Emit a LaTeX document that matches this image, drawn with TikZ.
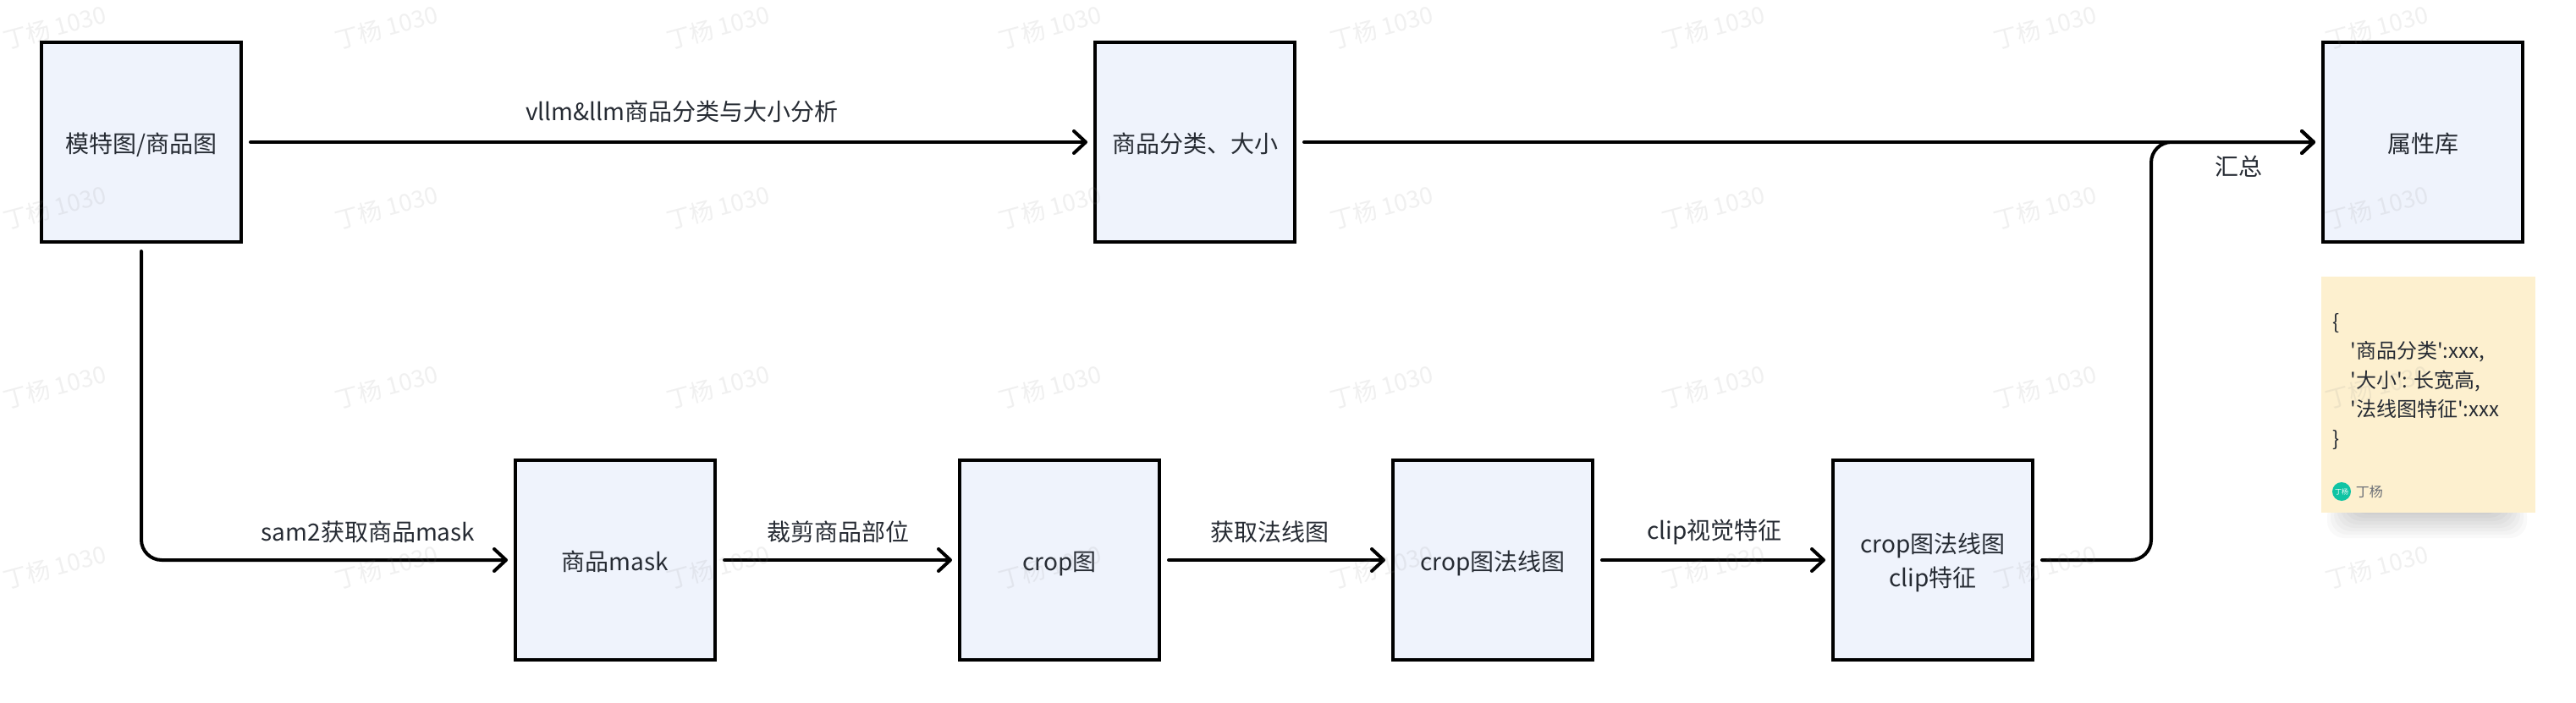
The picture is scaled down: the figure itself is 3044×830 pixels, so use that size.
\documentclass[tikz,border=0pt]{standalone}
\usepackage{fontspec}
\setmainfont{Noto Sans CJK SC}
\newfontfamily\notefont{Noto Sans CJK SC}
\usetikzlibrary{arrows.meta,positioning}
\definecolor{box_fill}{HTML}{EFF3FC}
\definecolor{note_fill}{HTML}{FDF0CF}
\definecolor{text_ink}{HTML}{262B33}
\definecolor{mark_ink}{HTML}{888888}
\definecolor{avatar_fill}{HTML}{10C4A4}
\definecolor{name_ink}{HTML}{6B6F76}

\begin{document}
\begin{tikzpicture}[
    x=0.5pt, y=-0.5pt,
    font=\fontsize{14pt}{20pt}\selectfont,
    box_style/.style={rectangle, draw=black, line width=2pt, fill=box_fill, text=text_ink,
        minimum size=118pt, inner sep=0pt, align=center},
    one_line_box/.style={box_style, text height=15.6pt, text depth=3pt},
    flow_style/.style={draw=black, line width=2pt, line cap=round, rounded corners=12pt,
        shorten <=4.5pt, shorten >=3.5pt,
        -{Straight Barb[length=7pt,width=13pt,round,line width=2pt]}},
    label_style/.style={text=text_ink, inner sep=0pt},
    mark_style/.style={text=mark_ink, text opacity=0.12, rotate=15, inner sep=0pt,
        font=\fontsize{14pt}{16pt}\selectfont}
]

\useasboundingbox (0,0) rectangle (3044,830);
\fill[white] (0,0) rectangle (3044,830);

% Top row
\node[one_line_box] (image_box) at (167,168) {模特图/商品图};
\node[one_line_box] (goods_box) at (1412,168) {商品分类、大小};
\node[one_line_box] (attr_box) at (2863,168) {属性库};

% Bottom row
\node[one_line_box] (mask_box) at (727,662) {商品mask};
\node[one_line_box] (crop_box) at (1252,662) {crop图};
\node[one_line_box] (normal_box) at (1764,662) {crop图法线图};
\node[box_style] (clip_box) at (2284,662) {\rule{0pt}{14.6pt}crop图法线图\\clip特征};

\coordinate (sum_turn) at (2542,168);

\draw[flow_style] (image_box) -- (goods_box);
\draw[flow_style] (goods_box) -- (attr_box);
\draw[flow_style] (image_box.south) |- (mask_box.west);
\draw[flow_style] (mask_box) -- (crop_box);
\draw[flow_style] (crop_box) -- (normal_box);
\draw[flow_style] (normal_box) -- (clip_box);
\draw[flow_style] (clip_box.east) -| (sum_turn) -- (attr_box.west);

% Edge labels
\node[label_style] (llm_label) at (806,132) {vllm\&llm商品分类与大小分析};
\node[label_style] (sam_label) at (435,629) {sam2获取商品mask};
\node[label_style] (cut_label) at (990,629) {裁剪商品部位};
\node[label_style] (normal_label) at (1500,629) {获取法线图};
\node[label_style] (clip_label) at (2026,629) {clip视觉特征};
\node[label_style] (sum_label) at (2645,197) {汇总};

% Sticky note
\foreach \grow in {0,4,...,28}
    \fill[black, opacity=0.022, rounded corners=10pt] (2778-\grow,590) rectangle (2958+\grow,608+\grow);
\node[rectangle, fill=note_fill, minimum width=126.5pt, minimum height=139.5pt, inner sep=0pt] (note_box) at (2869.5,466.5) {};
\node[label_style, anchor=north west, align=left, font=\notefont\fontsize{12pt}{17.25pt}\selectfont] (note_text) at (2756,370)
    {\{\\\hspace*{10.5pt}'商品分类':xxx,\\\hspace*{10.5pt}'大小': 长宽高,\\\hspace*{10.5pt}'法线图特征':xxx\\\}};
\node[circle, fill=avatar_fill, minimum size=11pt, inner sep=0pt, text=white, font=\fontsize{4pt}{4pt}\selectfont] (avatar) at (2767,581) {丁杨};
\node[inner sep=0pt, text=name_ink, font=\fontsize{8pt}{10pt}\selectfont, right=2.5pt of avatar] (avatar_name) {丁杨};

% Watermarks
\foreach \row/\wy in {0/32,1/245,2/457,3/670}
    \foreach \col in {0,...,7}
        \node[mark_style] (mark\row\col) at ({65+392*\col},\wy) {丁杨 1030};

\end{tikzpicture}
\end{document}
